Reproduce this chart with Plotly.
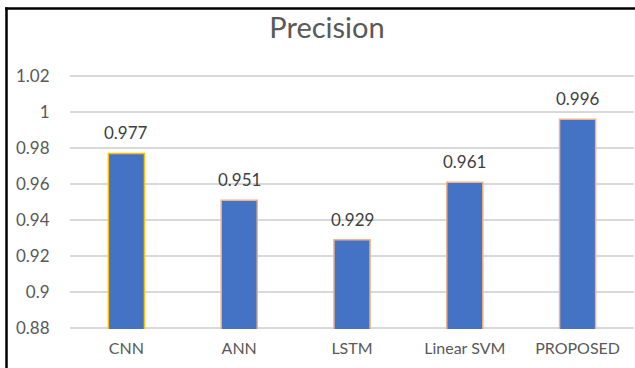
import plotly.graph_objects as go

categories = ["CNN", "ANN", "LSTM", "Linear SVM", "PROPOSED"]
precision = [0.977, 0.951, 0.929, 0.961, 0.996]
value_labels = ["0.977", "0.951", "0.929", "0.961", "0.996"]
edge_colors = ["#FFC000", "#F4B183", "#F4B183", "#F4B183", "#F4B183"]
y_ticks = [0.88, 0.9, 0.92, 0.94, 0.96, 0.98, 1.0, 1.02]
y_tick_text = ["0.88", "0.9", "0.92", "0.94", "0.96", "0.98", "1", "1.02"]

W, H = 635, 368
L, R, T, B = 70, 1, 75, 39
pw, ph = W - L - R, H - T - B

def px(x):
    return (x - L) / pw

def py(y):
    return (H - B - y) / ph

FONT = "Lato, 'Open Sans', sans-serif"

fig = go.Figure(
    go.Bar(
        x=categories,
        y=precision,
        base=0,
        marker=dict(color="#4472C4", line=dict(color=edge_colors, width=1.5)),
        cliponaxis=True,
    )
)

annotations = [
    dict(x=c, y=v, xref="x", yref="y", text=t, showarrow=False,
         yanchor="bottom", yshift=8,
         font=dict(family=FONT, size=17, color="#404040"))
    for c, v, t in zip(categories, precision, value_labels)
]

fig.update_layout(
    width=W,
    height=H,
    margin=dict(l=L, r=R, t=T, b=B, autoexpand=False),
    paper_bgcolor="white",
    plot_bgcolor="white",
    bargap=0.68,
    showlegend=False,
    title=dict(
        text="Precision",
        x=327 / W,
        xanchor="center",
        y=1 - 28 / H,
        yanchor="middle",
        font=dict(family=FONT, size=29, color="#595959"),
    ),
    xaxis=dict(
        showgrid=False,
        showline=False,
        ticks="outside",
        ticklen=5,
        tickcolor="rgba(0,0,0,0)",
        tickfont=dict(family=FONT, size=16, color="#595959"),
    ),
    yaxis=dict(
        range=[0.8794, 1.0206],
        tickmode="array",
        tickvals=y_ticks,
        ticktext=y_tick_text,
        showgrid=True,
        gridcolor="#D9D9D9",
        gridwidth=1.5,
        zeroline=False,
        showline=False,
        ticks="outside",
        ticklen=16,
        tickcolor="rgba(0,0,0,0)",
        tickfont=dict(family=FONT, size=17, color="#595959"),
    ),
    annotations=annotations,
    shapes=[
        dict(type="line", xref="paper", yref="paper",
             x0=px(5), x1=px(640), y0=py(8.5), y1=py(8.5),
             line=dict(color="black", width=2.5)),
        dict(type="line", xref="paper", yref="paper",
             x0=px(6.5), x1=px(6.5), y0=py(7.5), y1=py(372),
             line=dict(color="black", width=2.5)),
    ],
)

fig.write_html(
    "out.html",
    config={"displayModeBar": False},
    post_script="document.body.style.margin='0';document.body.style.overflow='hidden';",
)
